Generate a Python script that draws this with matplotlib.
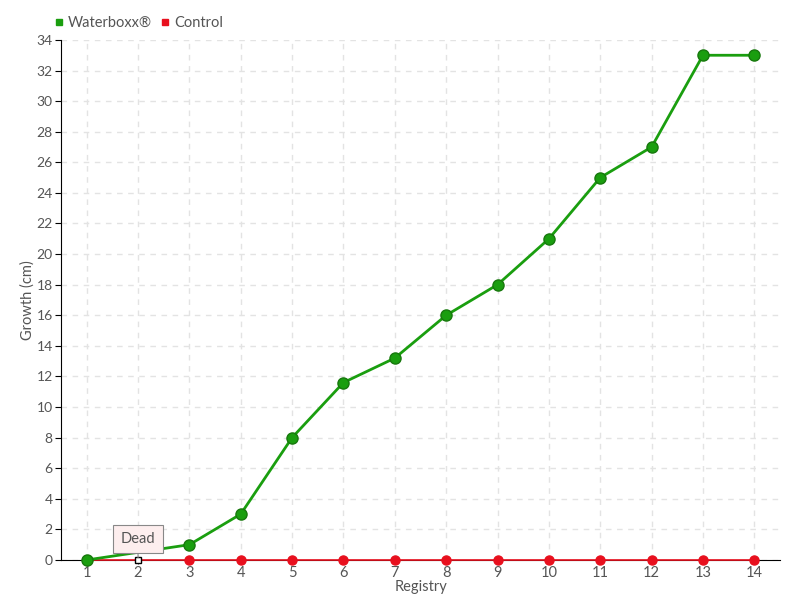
import numpy as np
import matplotlib.pyplot as plt

plt.rcParams["font.family"] = ["Lato", "DejaVu Sans"]

registry = [str(i) for i in range(1, 15)]
waterboxx = [0, None, 1, 3, 8, 11.6, 13.2, 16, 18, 21, 25, 27, 33, 33]
control = [0] * 14
dead_index = 1

txt = "#555555"
green = "#1a9e0f"
red = "#e8101e"

fig = plt.figure(figsize=(8, 6), dpi=100)
ax = fig.add_axes([0.07625, 0.0667, 0.89875, 0.8667])

xs = np.arange(len(registry))
wx = [x for x, v in zip(xs, waterboxx) if v is not None]
wy = [v for v in waterboxx if v is not None]

ax.plot(xs, control, color=red, lw=1.2, zorder=3, clip_on=False)
cx = [x for i, x in enumerate(xs) if i != dead_index]
cy = [v for i, v in enumerate(control) if i != dead_index]
ax.plot(cx, cy, ls="none", marker="o", ms=6.5, mfc=red, mec=red, zorder=4, clip_on=False)
ax.plot(wx, wy, color=green, lw=2, marker="o", ms=8, mfc=green,
        mec="#17780d", mew=1, zorder=5, clip_on=False)
ax.plot([xs[dead_index]], [control[dead_index]], ls="none", marker="s", ms=5,
        mfc="white", mec="black", mew=1, zorder=6, clip_on=False)

# legend proxies
hw, = ax.plot([], [], ls="none", marker="s", ms=5, color=green)
hc, = ax.plot([], [], ls="none", marker="s", ms=5, color=red)
leg = fig.legend([hw, hc], ["Waterboxx®", "Control"], loc="upper left",
                 bbox_to_anchor=(0.052, 0.995), ncol=2, frameon=False,
                 handlelength=0.6, handletextpad=0.3, columnspacing=0.6,
                 fontsize=10.5)
for t in leg.get_texts():
    t.set_color(txt)

ax.annotate("Dead", xy=(xs[dead_index], 0.15), xytext=(xs[dead_index], 1.37),
            ha="center", va="center", fontsize=10.5, color=txt,
            bbox=dict(boxstyle="square,pad=0.5", fc="#fdeeee", ec="#888888", lw=0.8),
            arrowprops=dict(arrowstyle="-", color="#888888", lw=0.8, shrinkA=0, shrinkB=0),
            zorder=7)

ax.set_xlim(-0.5, len(registry) - 0.5)
ax.set_ylim(0, 34)
ax.set_xticks(xs)
ax.set_xticklabels(registry)
ax.set_yticks(np.arange(0, 35, 2))
ax.grid(True, ls=(0, (4, 4)), color="#e3e3e3", lw=1)
ax.set_axisbelow(True)
for s in ["top", "right"]:
    ax.spines[s].set_visible(False)
ax.spines["left"].set_color("black")
ax.spines["bottom"].set_color("black")
ax.tick_params(axis="both", colors=txt, labelsize=10.5, length=4)
ax.tick_params(axis="y", color="black", labelsize=10, pad=2)
ax.tick_params(axis="x", color=txt, length=3, pad=1)
ax.set_xlabel("Registry", color=txt, fontsize=10.5, labelpad=0)
ax.set_ylabel("Growth (cm)", color=txt, fontsize=10.5)
ax.yaxis.set_label_coords(-0.036, 0.5)

fig.savefig("out.png", dpi=100)
